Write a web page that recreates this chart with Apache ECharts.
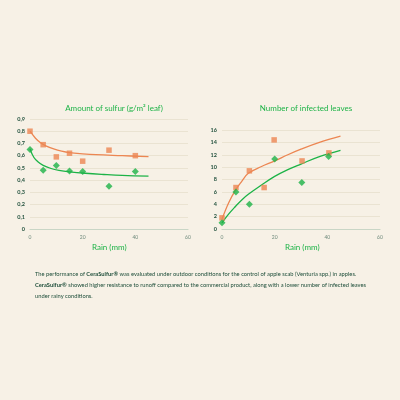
<!DOCTYPE html>
<html>
<head>
<meta charset="utf-8">
<script src="https://cdn.jsdelivr.net/npm/echarts@6/dist/echarts.min.js"></script>
<style>
  html, body { margin: 0; padding: 0; background: #f7f1e6; }
  #chart { width: 400px; height: 400px; }
</style>
</head>
<body>
<div id="chart"></div>
<script>
// rain (mm) at each measurement
let rainSulfur = [0, 5, 10, 15, 20, 30, 40];
let sulfurCommercial = [0.80, 0.69, 0.59, 0.62, 0.555, 0.645, 0.60];
let sulfurCera = [0.65, 0.48, 0.52, 0.475, 0.47, 0.35, 0.47];

// trend curves
let fitSulfurCommercial = [[0, 0.80], [2, 0.745], [4, 0.705], [6, 0.68], [9, 0.655], [12, 0.637], [15, 0.625], [20, 0.615], [25, 0.608], [35, 0.600], [45, 0.592]];
let fitSulfurCera = [[0, 0.655], [1.5, 0.585], [3, 0.55], [5, 0.52], [8, 0.495], [11, 0.48], [15, 0.468], [21, 0.456], [28, 0.446], [35, 0.438], [45, 0.432]];

let rainLeavesCommercial = [0, 5.3, 10.4, 16, 19.8, 30.4, 40.6];
let leavesCommercial = [1.8, 6.7, 9.4, 6.7, 14.4, 11.0, 12.3];
let rainLeavesCera = [0, 5.3, 10.4, 20, 30.3, 40.5];
let leavesCera = [1.0, 6.0, 4.0, 11.3, 7.5, 11.7];

let fitLeavesCommercial = [[0, 1.6], [2.5, 4.2], [5, 6.2], [7.5, 7.7], [10, 9.0], [15, 10.1], [20, 11.0], [25, 12.0], [30, 12.9], [37, 14.0], [45, 15.0]];
let fitLeavesCera = [[0, 1.0], [2.5, 2.4], [5, 3.6], [7.5, 4.7], [10, 5.6], [15, 7.1], [20, 8.5], [25, 9.6], [30, 10.5], [37, 11.7], [45, 12.7]];

let orange = '#ec8652';
let green = '#1db347';
let textGreen = '#1f4f3b';

let chart = echarts.init(document.getElementById('chart'));

function pairs(xs, ys) {
    return xs.map((x, i) => [x, ys[i]]);
}

function xAxisOf(idx) {
    return {
        gridIndex: idx, type: 'value', min: 0, max: 60, interval: 20,
        axisLine: { show: true, lineStyle: { color: '#c9d6c6', width: 1.2 } },
        axisTick: { show: false },
        splitLine: { show: false },
        axisLabel: { color: '#6f8a7c', fontSize: 5, fontFamily: 'Lato', margin: 6 }
    };
}

function yAxisOf(idx, max, interval, comma) {
    return {
        gridIndex: idx, type: 'value', min: 0, max: max, interval: interval,
        axisLine: { show: false },
        axisTick: { show: false },
        splitLine: { lineStyle: { color: '#e6dfcd', width: 0.8 } },
        axisLabel: {
            color: textGreen, fontSize: 5.5, fontFamily: 'Lato', fontWeight: 'bold', margin: 5,
            formatter: v => comma ? String(Math.round(v * 10) / 10).replace('.', ',') : String(v)
        }
    };
}

let option = {
    backgroundColor: '#f7f1e6',
    animation: false,
    title: [
        { text: 'Amount of sulfur (g/m² leaf)', left: 109, top: 99, textAlign: 'center',
          textStyle: { color: green, fontSize: 8, fontWeight: 'normal', fontFamily: 'Lato' } },
        { text: 'Number of infected leaves', left: 301, top: 99, textAlign: 'center',
          textStyle: { color: green, fontSize: 8, fontWeight: 'normal', fontFamily: 'Lato' } }
    ],
    grid: [
        { left: 30, right: 212, top: 119, bottom: 171 },
        { left: 222, right: 20, top: 130, bottom: 171 }
    ],
    xAxis: [xAxisOf(0), xAxisOf(1)],
    yAxis: [yAxisOf(0, 0.9, 0.1, true), yAxisOf(1, 16, 2, false)],
    series: [
        { type: 'line', xAxisIndex: 0, yAxisIndex: 0, data: fitSulfurCommercial, smooth: 0.4, showSymbol: false,
          lineStyle: { color: orange, width: 1.3 }, z: 2 },
        { type: 'line', xAxisIndex: 0, yAxisIndex: 0, data: fitSulfurCera, smooth: 0.4, showSymbol: false,
          lineStyle: { color: green, width: 1.3 }, z: 2 },
        { type: 'scatter', xAxisIndex: 0, yAxisIndex: 0, data: pairs(rainSulfur, sulfurCommercial),
          symbol: 'rect', symbolSize: 5.5, itemStyle: { color: orange }, z: 3 },
        { type: 'scatter', xAxisIndex: 0, yAxisIndex: 0, data: pairs(rainSulfur, sulfurCera),
          symbol: 'diamond', symbolSize: 7, itemStyle: { color: green }, z: 3 },

        { type: 'line', xAxisIndex: 1, yAxisIndex: 1, data: fitLeavesCommercial, smooth: 0.4, showSymbol: false,
          lineStyle: { color: orange, width: 1.3 }, z: 2 },
        { type: 'line', xAxisIndex: 1, yAxisIndex: 1, data: fitLeavesCera, smooth: 0.4, showSymbol: false,
          lineStyle: { color: green, width: 1.3 }, z: 2 },
        { type: 'scatter', xAxisIndex: 1, yAxisIndex: 1, data: pairs(rainLeavesCommercial, leavesCommercial),
          symbol: 'rect', symbolSize: 5.5, itemStyle: { color: orange }, z: 3 },
        { type: 'scatter', xAxisIndex: 1, yAxisIndex: 1, data: pairs(rainLeavesCera, leavesCera),
          symbol: 'diamond', symbolSize: 7, itemStyle: { color: green }, z: 3 }
    ],
    graphic: [
        { type: 'text', left: 92, top: 243, style: { text: 'Rain (mm)', fill: green, fontSize: 8, fontFamily: 'Lato' } },
        { type: 'text', left: 285, top: 243, style: { text: 'Rain (mm)', fill: green, fontSize: 8, fontFamily: 'Lato' } },
        {
            type: 'text', left: 35, top: 268,
            style: {
                text: [
                    'The performance of {b|CeraSulfur®} was evaluated under outdoor conditions for the control of apple scab (Venturia spp.) in apples.',
                    '{b|CeraSulfur®} showed higher resistance to runoff compared to the commercial product, along with a lower number of infected leaves',
                    'under rainy conditions.'
                ].join('\n'),
                fill: textGreen, fontSize: 5.75, fontFamily: 'Lato', lineHeight: 11.3,
                rich: { b: { fontWeight: 'bold', fill: textGreen, fontSize: 5.75, fontFamily: 'Lato', lineHeight: 11.3 } }
            }
        }
    ]
};

chart.setOption(option);
</script>
</body>
</html>
